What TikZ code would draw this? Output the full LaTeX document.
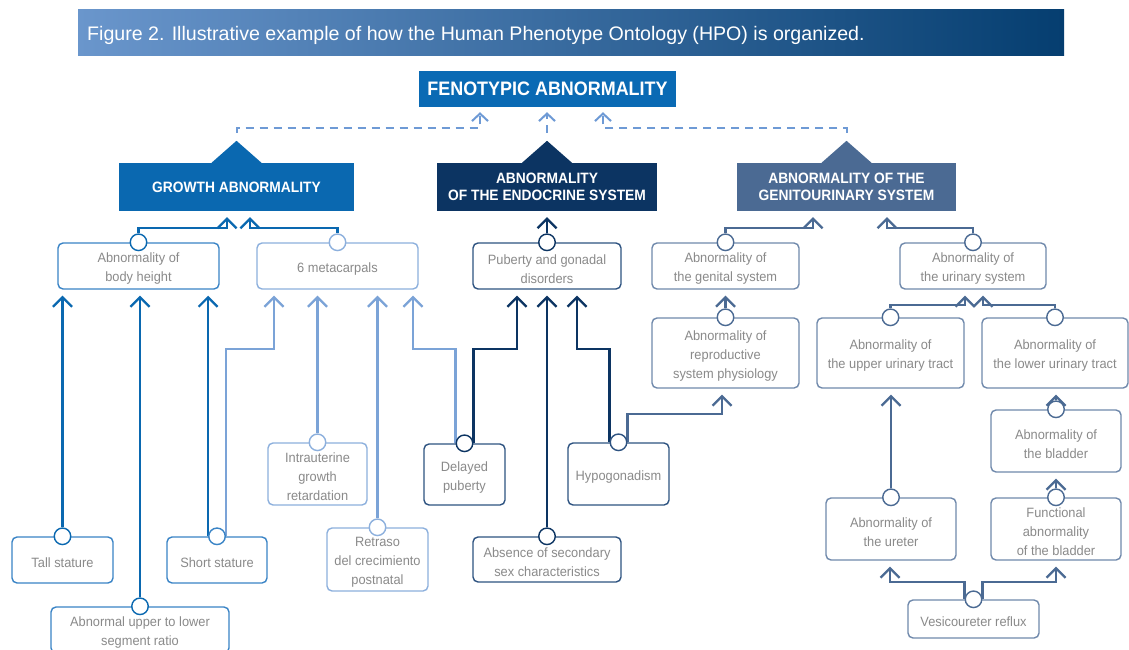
\documentclass[tikz,border=0pt]{standalone}
\usepackage{fontspec}
\setmainfont{Liberation Sans}
\newfontfamily\leaffam[FakeStretch=0.95]{Liberation Sans}
\newfontfamily\headfam[FakeStretch=0.92]{Liberation Sans}
\usetikzlibrary{arrows.meta}

\definecolor{cTitleL}{HTML}{6A96CC}
\definecolor{cTitleR}{HTML}{053E70}
\definecolor{cFen}{HTML}{0A6AB4}
\definecolor{cGrow}{HTML}{0A68B0}
\definecolor{cGrowEdge}{HTML}{3A84C6}
\definecolor{cMeta}{HTML}{7BA3D7}
\definecolor{cMetaEdge}{HTML}{8DB0DD}
\definecolor{cEndo}{HTML}{0C3462}
\definecolor{cEndoEdge}{HTML}{2E5381}
\definecolor{cGeni}{HTML}{4B6A93}
\definecolor{cGeniEdge}{HTML}{7089AC}
\definecolor{cDash}{HTML}{6E9AD5}
\definecolor{cText}{HTML}{8A8A8A}

\pgfdeclarelayer{bg}
\pgfdeclarelayer{links}
\pgfsetlayers{bg,links,main}

\begin{document}
\begin{tikzpicture}[x=1pt, y=-1pt,
  leaftext/.style={align=center, text=cText, inner sep=0pt, yshift=-3pt,
    font=\leaffam\fontsize{13.5}{19}\selectfont},
  leaf/.style={draw, fill=white, rounded corners=5pt, line width=1.4pt,
    inner sep=0pt, label={[leaftext]center:#1}},
  head/.style={align=center, text=white, inner sep=0pt,
    font=\headfam\bfseries\fontsize{15}{17}\selectfont},
  dot/.style={circle, draw, fill=white, line width=1.4pt,
    minimum size=16.5pt, inner sep=0pt},
  link/.style={line width=2.2pt, -{Straight Barb[length=9.5pt,width=19pt]},
    shorten >=6pt},
  dlink/.style={line width=2pt, cDash, dash pattern=on 8pt off 6pt,
    -{Straight Barb[length=7.5pt,width=16pt]}, shorten >=5pt, shorten <=8pt}
]
\useasboundingbox (0,0) rectangle (1129,650);
\begin{pgfonlayer}{bg}
  \fill[white] (0,0) rectangle (1129,650);
\end{pgfonlayer}

% caption bar
\shade[left color=cTitleL, right color=cTitleR] (78,10) rectangle (1064,56);
\node[anchor=west, text=white, inner sep=0pt,
  font=\fontsize{19.6}{22}\selectfont] (caption) at (87,35)
  {Figure 2. Illustrative example of how the Human Phenotype Ontology (HPO) is organized.};

% root and the three branches
\node[head, fill=cFen, minimum width=257pt, minimum height=36pt,
  font=\headfam\bfseries\fontsize{19.5}{22}\selectfont] (fen) at (547.5,89) {FENOTYPIC ABNORMALITY};
\node[head, fill=cGrow, minimum width=235pt, minimum height=48pt] (grow) at (236.5,187) {GROWTH ABNORMALITY};
\node[head, fill=cEndo, minimum width=220pt, minimum height=48pt] (endo) at (547,187) {ABNORMALITY\\OF THE ENDOCRINE SYSTEM};
\node[head, fill=cGeni, minimum width=219pt, minimum height=48pt] (geni) at (846.5,187) {ABNORMALITY OF THE\\GENITOURINARY SYSTEM};

\foreach \n/\c in {grow/cGrow, endo/cEndo, geni/cGeni}{
  \fill[\c] ([xshift=-25pt]\n.north) -- ([yshift=22pt]\n.north) -- ([xshift=25pt]\n.north) -- cycle;
  \coordinate (\n pk) at ([yshift=22pt]\n.north);
}

% second level
\node[leaf={Abnormality of\\body height}, draw=cGrowEdge, minimum width=161pt, minimum height=46pt] (bh) at (138.5,266) {};
\node[leaf={6 metacarpals}, draw=cMetaEdge, minimum width=161pt, minimum height=46pt] (meta) at (337.5,266) {};
\node[leaf={Puberty and gonadal\\disorders}, draw=cEndoEdge, minimum width=148pt, minimum height=46pt] (pub) at (547,266) {};
\node[leaf={Abnormality of\\the genital system}, draw=cGeniEdge, minimum width=147pt, minimum height=46pt] (gen) at (725.5,266) {};
\node[leaf={Abnormality of\\the urinary system}, draw=cGeniEdge, minimum width=146pt, minimum height=46pt] (uri) at (973,266) {};

% growth leaves
\node[leaf={Tall stature}, draw=cGrowEdge, minimum width=101pt, minimum height=46pt] (tall) at (62.5,560) {};
\node[leaf={Abnormal upper to lower\\segment ratio}, draw=cGrowEdge, minimum width=178pt, minimum height=46pt] (ratio) at (140,630) {};
\node[leaf={Short stature}, draw=cGrowEdge, minimum width=100pt, minimum height=46pt] (short) at (217,560) {};
\node[leaf={Intrauterine\\growth\\retardation}, draw=cMetaEdge, minimum width=99pt, minimum height=62pt] (iug) at (317.5,474) {};
\node[leaf={Retraso\\del crecimiento\\postnatal}, draw=cMetaEdge, minimum width=101pt, minimum height=63pt] (retr) at (377.5,559.5) {};

% endocrine leaves
\node[leaf={Delayed\\puberty}, draw=cEndoEdge, minimum width=81pt, minimum height=61pt] (del) at (464.5,474.5) {};
\node[leaf={Hypogonadism}, draw=cEndoEdge, minimum width=101pt, minimum height=62pt] (hypo) at (618.5,474) {};
\node[leaf={Absence of secondary\\sex characteristics}, draw=cEndoEdge, minimum width=148pt, minimum height=45pt] (abs) at (547,559.5) {};

% genitourinary leaves
\node[leaf={Abnormality of\\reproductive\\system physiology}, draw=cGeniEdge, minimum width=147pt, minimum height=70pt] (repro) at (725.5,353) {};
\node[leaf={Abnormality of\\the upper urinary tract}, draw=cGeniEdge, minimum width=147pt, minimum height=70pt] (upper) at (890.5,353) {};
\node[leaf={Abnormality of\\the lower urinary tract}, draw=cGeniEdge, minimum width=146pt, minimum height=70pt] (lower) at (1055,353) {};
\node[leaf={Abnormality of\\the bladder}, draw=cGeniEdge, minimum width=130pt, minimum height=62pt] (blad) at (1056,441) {};
\node[leaf={Functional\\abnormality\\of the bladder}, draw=cGeniEdge, minimum width=130pt, minimum height=62pt] (func) at (1056,529) {};
\node[leaf={Abnormality of\\the ureter}, draw=cGeniEdge, minimum width=130pt, minimum height=62pt] (uret) at (891,529) {};
\node[leaf={Vesicoureter reflux}, draw=cGeniEdge, minimum width=131pt, minimum height=38pt] (vesi) at (973.5,619) {};

% attachment circles
\foreach \b/\c in {bh/cGrow, meta/cMetaEdge, pub/cEndo, gen/cGeni, uri/cGeni,
  tall/cGrow, ratio/cGrow, short/cGrowEdge, iug/cMetaEdge, retr/cMetaEdge,
  del/cEndo, hypo/cEndoEdge, abs/cEndo,
  repro/cGeni, upper/cGeni, lower/cGeni, blad/cGeni, func/cGeni, uret/cGeni, vesi/cGeni}{
  \node[dot, draw=\c] (c\b) at (\b.north) {};
}

\begin{pgfonlayer}{links}
  % to the root
  \draw[dlink] (growpk) |- (480,128) -- (480,0 |- fen.south);
  \draw[dlink] (endopk) -- (endopk |- fen.south);
  \draw[dlink] (genipk) |- (603,128) -- (603,0 |- fen.south);

  % growth branch
  \draw[link, cGrow] (cbh.north) |- (227,228) -- (227,0 |- grow.south);
  \draw[link, cGrow] (cmeta.north) |- (250,228) -- (250,0 |- grow.south);
  \draw[link, cGrow] (ctall.north) -- (ctall.north |- bh.south);
  \draw[link, cGrow] (cratio.north) -- (cratio.north |- bh.south);
  \draw[link, cGrow] (cshort.west) -- (cshort.west |- bh.south);

  % 6 metacarpals
  \draw[link, cMeta] (cshort.east) |- (274,349) -- (274,0 |- meta.south);
  \draw[link, cMeta] (ciug.north) -- (ciug.north |- meta.south);
  \draw[link, cMeta] (cretr.north) -- (cretr.north |- meta.south);
  \draw[link, cMeta] (cdel.west) |- (413,349) -- (413,0 |- meta.south);

  % endocrine branch
  \draw[link, cEndo] (cdel.east) |- (517,349) -- (517,0 |- pub.south);
  \draw[link, cEndo] (cabs.north) -- (cabs.north |- pub.south);
  \draw[link, cEndo] (chypo.west) |- (577,349) -- (577,0 |- pub.south);
  \draw[link, cEndo] (cpub.north) -- (cpub.north |- endo.south);

  % genitourinary branch
  \draw[link, cGeni] (chypo.east) |- (722,414) -- (722,0 |- repro.south);
  \draw[link, cGeni] (crepro.north) -- (crepro.north |- gen.south);
  \draw[link, cGeni] (cgen.north) |- (813,228) -- (813,0 |- geni.south);
  \draw[link, cGeni] (curi.north) |- (887,228) -- (887,0 |- geni.south);
  \draw[link, cGeni] (cupper.north) |- (965,305) -- (965,0 |- uri.south);
  \draw[link, cGeni] (clower.north) |- (983,305) -- (983,0 |- uri.south);
  \draw[link, cGeni] (cblad.north) -- (cblad.north |- lower.south);
  \draw[link, cGeni] (cfunc.north) -- (cfunc.north |- blad.south);
  \draw[link, cGeni] (curet.north) -- (curet.north |- upper.south);
  \draw[link, cGeni] (cvesi.west) |- (890,582) -- (890,0 |- uret.south);
  \draw[link, cGeni] (cvesi.east) |- (1056,582) -- (1056,0 |- func.south);
\end{pgfonlayer}
\end{tikzpicture}
\end{document}
